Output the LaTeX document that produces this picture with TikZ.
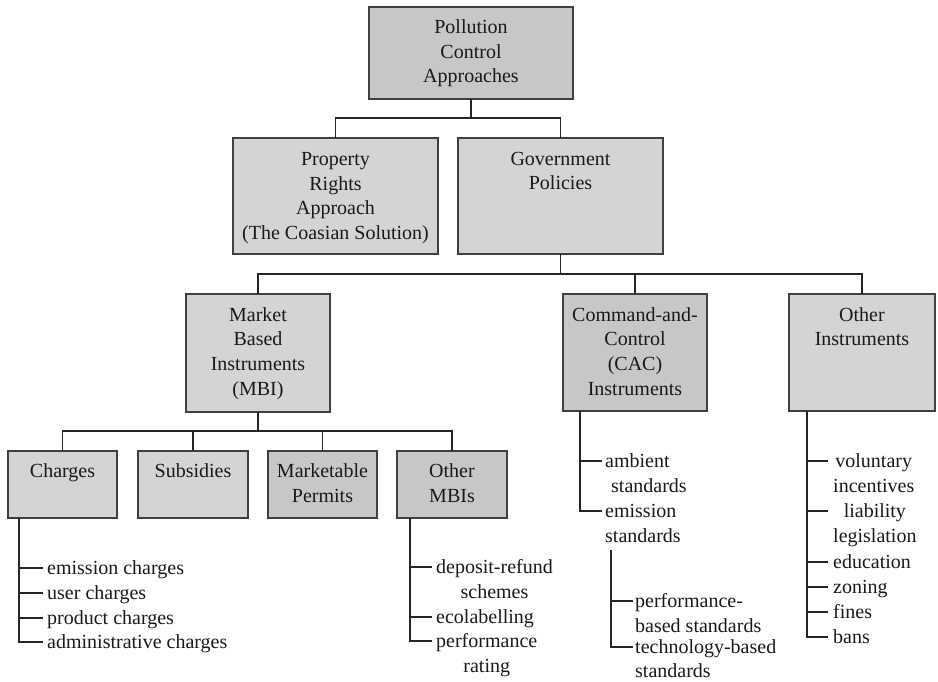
\documentclass[tikz,border=0pt]{standalone}
\usepackage{fontspec}
\setmainfont{Liberation Serif}
\newcommand\mystrut{\rule{0pt}{17pt}}
\tikzset{
 box/.style={draw=black!75, line width=1.4pt, fill=black!17, inner sep=0pt, outer sep=0pt},
 boxd/.style={box, fill=black!22},
 btext/.style={anchor=north, inner sep=0pt, align=center, font=\fontsize{20}{24.6}\selectfont, text=black!90},
 itext/.style={anchor=north west, inner sep=0pt, font=\fontsize{20}{24.8}\selectfont, text=black!90},
 conn/.style={line width=1.9pt, draw=black!85},
}
\begin{document}
\begin{tikzpicture}[x=1pt,y=-1pt]
\useasboundingbox (0,0) rectangle (938,682);
% boxes
\node[boxd, minimum width=204pt, minimum height=92pt] (pca) at (471,53) {};
\node[box, minimum width=205pt, minimum height=116pt] (prop) at (335.5,196) {};
\node[box, minimum width=205pt, minimum height=116pt] (gov) at (560.5,196) {};
\node[box, minimum width=144pt, minimum height=118pt] (mbi) at (258,353) {};
\node[boxd, minimum width=144pt, minimum height=117pt] (cac) at (635,352.5) {};
\node[box, minimum width=146pt, minimum height=117pt] (oth) at (862,352.5) {};
\node[box, minimum width=109pt, minimum height=67pt] (chg) at (62.5,484.5) {};
\node[box, minimum width=110pt, minimum height=67pt] (sub) at (193,484.5) {};
\node[boxd, minimum width=109pt, minimum height=67pt] (mkt) at (322.5,484.5) {};
\node[boxd, minimum width=110pt, minimum height=67pt] (omb) at (452,484.5) {};
% box texts
\node[btext] (pcat) at (471,16.5) {\mystrut Pollution\\Control\\Approaches};
\node[btext] (propt) at (335.5,148.5) {\mystrut Property\\Rights\\Approach\\(The Coasian Solution)};
\node[btext] (govt) at (560.5,148) {\mystrut Government\\Policies};
\node[btext] (mbit) at (258,304) {\mystrut Market\\Based\\Instruments\\(MBI)};
\node[btext] (cact) at (635,304) {\mystrut Command-and-\\Control\\(CAC)\\Instruments};
\node[btext] (otht) at (862,304) {\mystrut Other\\Instruments};
\node[btext] (chgt) at (62.5,460.5) {\mystrut Charges};
\node[btext] (subt) at (193,460.5) {\mystrut Subsidies};
\node[btext] (mktt) at (322.5,460.5) {\mystrut Marketable\\Permits};
\node[btext] (ombt) at (452,460.5) {\mystrut Other\\MBIs};
% tree connectors
\coordinate (j1) at (471,118);
\draw[conn] (pca.south) -- (j1);
\draw[conn] (prop.north) |- (j1) -| (gov.north);
\coordinate (j2) at (560.5,274);
\draw[conn] (gov.south) -- (j2);
\draw[conn] (mbi.north) |- (j2) -| (oth.north);
\draw[conn] (cac.north) -- (cac.north |- j2);
\coordinate (j3) at (258,431);
\draw[conn] (mbi.south) -- (j3);
\draw[conn] (chg.north) |- (j3) -| (omb.north);
\draw[conn] (sub.north) -- (sub.north |- j3);
\draw[conn] (mkt.north) -- (mkt.north |- j3);
% charges list
\node[itext] (ch1) at (47,557) {\mystrut emission charges};
\node[itext] (ch2) at (47,582) {\mystrut user charges};
\node[itext] (ch3) at (47,607) {\mystrut product charges};
\node[itext] (ch4) at (47,631) {\mystrut administrative charges};
\coordinate (cv1) at ([xshift=11pt]chg.south west);
\foreach \n in {ch1,ch2,ch3,ch4}{\coordinate (t\n) at ([shift={(-4pt,-11pt)}]\n.north west);}
\draw[conn] (cv1) |- (tch4);
\foreach \n in {ch1,ch2,ch3}{\draw[conn] (cv1 |- t\n) -- (t\n);}
% other MBIs list
\node[itext, align=center] (om1) at (436,556) {\mystrut deposit-refund\\schemes};
\node[itext] (om2) at (436,606) {\mystrut ecolabelling};
\node[itext, align=center] (om3) at (436,630) {\mystrut performance\\rating};
\coordinate (cv2) at ([xshift=13pt]omb.south west);
\foreach \n in {om1,om2,om3}{\coordinate (t\n) at ([shift={(-4pt,-11pt)}]\n.north west);}
\draw[conn] (cv2) |- (tom3);
\foreach \n in {om1,om2}{\draw[conn] (cv2 |- t\n) -- (t\n);}
% CAC list
\node[itext, align=left] (ca1) at (605,450) {\mystrut ambient\\\hspace{6pt}standards};
\node[itext, align=left] (ca2) at (605,500) {\mystrut emission\\standards};
\coordinate (cv3) at ([xshift=17pt]cac.south west);
\foreach \n in {ca1,ca2}{\coordinate (t\n) at ([shift={(-3pt,-11pt)}]\n.north west);}
\draw[conn] (cv3) |- (tca2);
\draw[conn] (cv3 |- tca1) -- (tca1);
% sub list
\node[itext, align=left] (sb1) at (635,590) {\mystrut performance-\\based standards};
\node[itext, align=left, font=\fontsize{20}{23.8}\selectfont] (sb2) at (635,636) {\mystrut technology-based\\standards};
\coordinate (cv4) at (611,550);
\foreach \n in {sb1,sb2}{\coordinate (t\n) at ([shift={(-2pt,-11pt)}]\n.north west);}
\draw[conn] (cv4) |- (tsb2);
\draw[conn] (cv4 |- tsb1) -- (tsb1);
% other instruments list
\node[itext, align=center] (oi1) at (833,450) {\mystrut voluntary\\incentives};
\node[itext, align=center] (oi2) at (833,500) {\mystrut liability\\legislation};
\node[itext] (oi3) at (833,551) {\mystrut education};
\node[itext] (oi4) at (833,576) {\mystrut zoning};
\node[itext] (oi5) at (833,601) {\mystrut fines};
\node[itext] (oi6) at (833,626) {\mystrut bans};
\coordinate (cv5) at ([xshift=18pt]oth.south west);
\foreach \n in {oi1,oi2,oi3,oi4,oi5,oi6}{\coordinate (t\n) at ([shift={(-5pt,-11pt)}]\n.north west);}
\draw[conn] (cv5) |- (toi6);
\foreach \n in {oi1,oi2,oi3,oi4,oi5}{\draw[conn] (cv5 |- t\n) -- (t\n);}
\end{tikzpicture}
\end{document}
